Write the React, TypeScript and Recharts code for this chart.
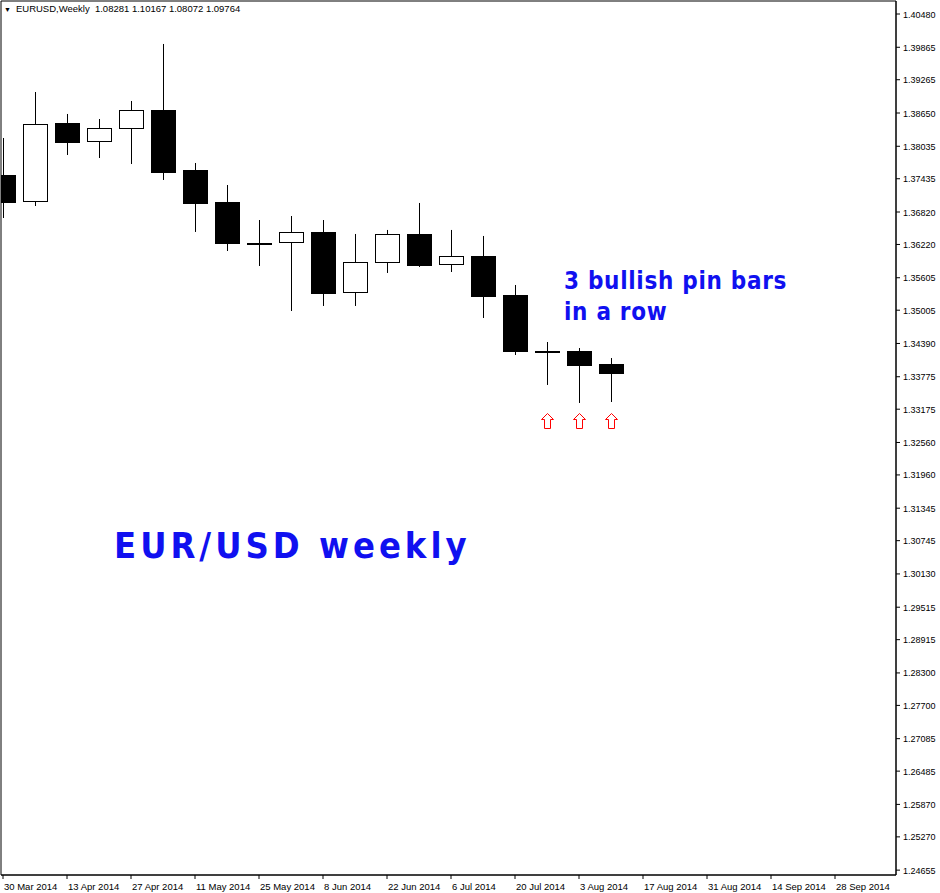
import { ComposedChart, Bar, Scatter, XAxis, YAxis, ReferenceArea } from 'recharts';

// weekly candles, first one sits half behind the left edge
const weeks = [
  '30 Mar 2014', '6 Apr 2014', '13 Apr 2014', '20 Apr 2014', '27 Apr 2014',
  '4 May 2014', '11 May 2014', '18 May 2014', '25 May 2014', '1 Jun 2014',
  '8 Jun 2014', '15 Jun 2014', '22 Jun 2014', '29 Jun 2014', '6 Jul 2014',
  '13 Jul 2014', '20 Jul 2014', '27 Jul 2014', '3 Aug 2014', '10 Aug 2014',
];
const opens = [
  1.37504, 1.37024, 1.38465, 1.38133, 1.38373, 1.38706, 1.37597, 1.37005, 1.36247, 1.36266,
  1.36451, 1.35341, 1.35896, 1.36414, 1.35859, 1.36007, 1.35286, 1.34251, 1.34251, 1.34011,
];
const highs = [
  1.38188, 1.39038, 1.38632, 1.38539, 1.38872, 1.39926, 1.37726, 1.37319, 1.36672, 1.36746,
  1.36672, 1.36414, 1.36488, 1.36987, 1.36488, 1.36377, 1.35471, 1.34417, 1.34306, 1.34121,
];
const lows = [
  1.36709, 1.36931, 1.37874, 1.37818, 1.37707, 1.37412, 1.36451, 1.36099, 1.35822, 1.34990,
  1.35083, 1.35083, 1.35693, 1.35804, 1.35711, 1.34861, 1.34177, 1.33623, 1.33290, 1.33308,
];
const closes = [
  1.37005, 1.38447, 1.38114, 1.38373, 1.38706, 1.37560, 1.36987, 1.36247, 1.36250, 1.36451,
  1.35323, 1.35896, 1.36414, 1.35841, 1.36007, 1.35268, 1.34251, 1.34245, 1.33992, 1.33844,
];

// the three pin bars get an arrow underneath
const arrowWeeks = [17, 18, 19];
const arrowPrice = 1.32957;

const dateLabels = [
  '30 Mar 2014', '13 Apr 2014', '27 Apr 2014', '11 May 2014', '25 May 2014', '8 Jun 2014',
  '22 Jun 2014', '6 Jul 2014', '20 Jul 2014', '3 Aug 2014', '17 Aug 2014', '31 Aug 2014',
  '14 Sep 2014', '28 Sep 2014',
];
const priceTicks = [
  1.40480, 1.39865, 1.39265, 1.38650, 1.38035, 1.37435, 1.36820, 1.36220, 1.35605,
  1.35005, 1.34390, 1.33775, 1.33175, 1.32560, 1.31960, 1.31345, 1.30745, 1.30130,
  1.29515, 1.28915, 1.28300, 1.27700, 1.27085, 1.26485, 1.25870, 1.25270, 1.24655,
];

const X_DOMAIN: [number, number] = [-0.0625, 27.90625];
const Y_DOMAIN: [number, number] = [1.24565, 1.407203];

const candles = weeks.map((week, i) => ({
  i,
  week,
  open: opens[i],
  close: closes[i],
  high: highs[i],
  low: lows[i],
  range: [lows[i], highs[i]],
}));

const arrows = arrowWeeks.map((i) => ({ i, p: arrowPrice }));

const FONT = '"Liberation Sans", Arial, sans-serif';
const HAND = {
  fontFamily: '"DejaVu Sans Condensed", "DejaVu Sans", sans-serif',
  fontStretch: 'condensed',
  fontWeight: 'bold' as const,
  color: '#1010f0',
  whiteSpace: 'pre' as const,
  position: 'absolute' as const,
};

function Candle(props: any) {
  const { x, y, width, height, payload } = props;
  const top = Math.min(y, y + height);
  const h = Math.abs(height);
  const span = payload.high - payload.low;
  const k = span > 0 ? h / span : 0;
  const yOpen = top + (payload.high - payload.open) * k;
  const yClose = top + (payload.high - payload.close) * k;
  const cx = Math.round(x + width / 2) + 0.5;
  const bodyTop = Math.round(Math.min(yOpen, yClose)) + 0.5;
  const bodyH = Math.max(Math.round(Math.abs(yClose - yOpen)), 1);
  const bull = payload.close > payload.open;
  return (
    <g>
      <line x1={cx} x2={cx} y1={top} y2={top + h} stroke="#000" strokeWidth={1} />
      <rect
        x={cx - 12}
        y={bodyTop}
        width={24}
        height={bodyH}
        fill={bull ? '#fff' : '#000'}
        stroke="#000"
        strokeWidth={1}
      />
    </g>
  );
}

function UpArrow(props: any) {
  const { cx, cy } = props;
  const x = Math.round(cx) + 0.5;
  const t = Math.round(cy) - 7.5;
  const d = `M${x} ${t} L${x + 6} ${t + 6} L${x + 3} ${t + 6} L${x + 3} ${t + 15} L${x - 3} ${t + 15} L${x - 3} ${t + 6} L${x - 6} ${t + 6} Z`;
  return <path d={d} fill="#fff" stroke="#ff0000" strokeWidth={1} />;
}

function DateTick(props: any) {
  const { x, y, payload } = props;
  const label = dateLabels[Math.round(payload.value / 2)];
  return (
    <text x={x + 1} y={y + 9} textAnchor="start" fontSize={9.5} fontFamily={FONT} fill="#000">
      {label}
    </text>
  );
}

function PriceTick(props: any) {
  const { x, y, payload } = props;
  return (
    <text x={x + 1} y={y + 3.5} textAnchor="start" fontSize={9} fontFamily={FONT} fill="#000">
      {payload.value.toFixed(5)}
    </text>
  );
}

export default function App() {
  return (
    <div style={{ position: 'absolute', left: 0, top: 0, width: 940, height: 893, background: '#fff' }}>
      <ComposedChart
        width={940}
        height={893}
        data={candles}
        margin={{ top: 1, right: 0, bottom: 0, left: 1 }}
      >
        <XAxis
          type="number"
          dataKey="i"
          domain={X_DOMAIN}
          allowDataOverflow
          ticks={dateLabels.map((_, k) => k * 2)}
          interval={0}
          height={18}
          tickSize={4}
          tickLine={{ stroke: '#000' }}
          axisLine={{ stroke: '#000' }}
          tick={<DateTick />}
        />
        <YAxis
          orientation="right"
          type="number"
          domain={Y_DOMAIN}
          allowDataOverflow
          ticks={priceTicks}
          interval={0}
          width={44}
          tickSize={4}
          tickLine={{ stroke: '#000' }}
          axisLine={{ stroke: '#000' }}
          tick={<PriceTick />}
        />
        <ReferenceArea
          x1={X_DOMAIN[0]}
          x2={X_DOMAIN[1]}
          y1={Y_DOMAIN[0]}
          y2={Y_DOMAIN[1]}
          fill="none"
          stroke="#000"
          strokeWidth={1}
        />
        <Bar dataKey="range" barSize={24} shape={<Candle />} isAnimationActive={false} />
        <Scatter data={arrows} dataKey="p" shape={<UpArrow />} isAnimationActive={false} />
      </ComposedChart>

      <div style={{ position: 'absolute', left: 4, top: 3, fontFamily: FONT, fontSize: 9.5, color: '#000', whiteSpace: 'pre' }}>
        <span style={{ fontSize: 7, marginRight: 5 }}>▼</span>
        {'EURUSD,Weekly  1.08281 1.10167 1.08072 1.09764'}
      </div>

      <div style={{ ...HAND, left: 564, top: 266, fontSize: 24, letterSpacing: 0.7, lineHeight: '31px' }}>
        {'3 bullish pin bars\nin a row'}
      </div>

      <div style={{ ...HAND, left: 114, top: 526, fontSize: 36, letterSpacing: 4, lineHeight: '40px' }}>
        EUR/USD weekly
      </div>
    </div>
  );
}
